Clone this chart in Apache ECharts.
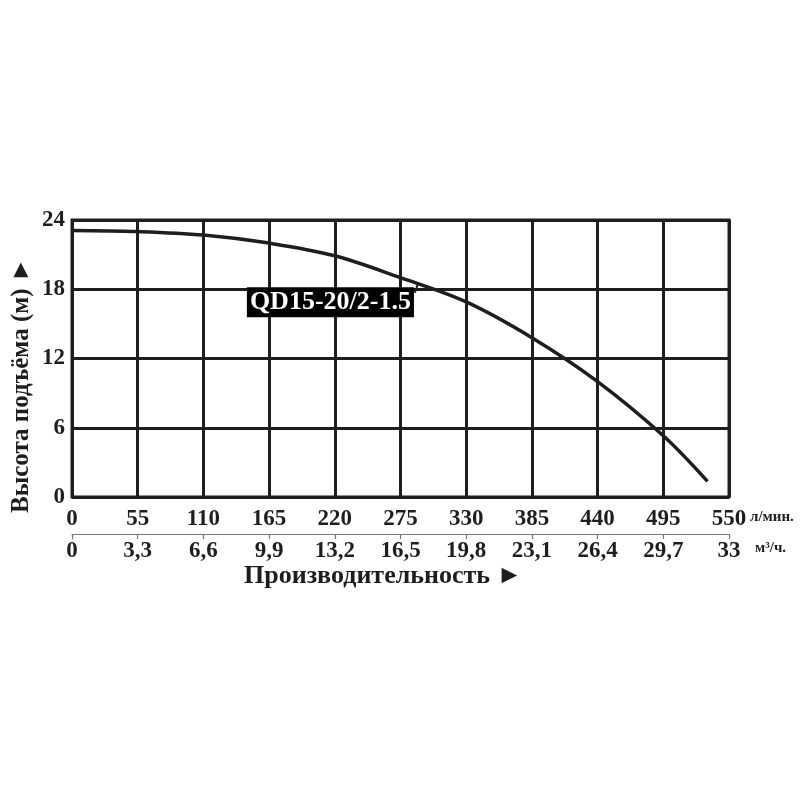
<!DOCTYPE html>
<html>
<head>
<meta charset="utf-8">
<script src="https://cdn.jsdelivr.net/npm/echarts@6/dist/echarts.min.js"></script>
<style>
  html, body { margin: 0; padding: 0; background: #fff; }
  #chart { width: 800px; height: 800px; }
</style>
</head>
<body>
<div id="chart"></div>
<script>
// данные кривой (л/мин -> м)
var flowLpm = [0, 55, 110, 165, 220, 275, 330, 385, 440, 495, 532];
var headM = [23.1, 23.0, 22.7, 22.0, 20.9, 19.0, 16.9, 13.8, 10.0, 5.3, 1.35];
var lpmTicks = ['0', '55', '110', '165', '220', '275', '330', '385', '440', '495', '550'];
var m3Ticks = ['0', '3,3', '6,6', '9,9', '13,2', '16,5', '19,8', '23,1', '26,4', '29,7', '33'];
var headTicks = [0, 6, 12, 18, 24];
var modelName = 'QD15-20/2-1.5';

var FONT = 'Liberation Serif';
var INK = '#1e1e1e';

var myChart = echarts.init(document.getElementById('chart'));
var option = {
   backgroundColor: '#fff',
   animation: false,
   grid: {
      left: 72, right: 71, top: 220, bottom: 303,
      show: true, borderColor: INK, borderWidth: 3
   },
   xAxis: [
      {
         type: 'value', min: 0, max: 550, interval: 55,
         axisLine: { show: false },
         axisTick: { show: false },
         splitLine: { show: true, lineStyle: { color: INK, width: 3 } },
         axisLabel: {
            margin: 11, color: INK, fontFamily: FONT, fontWeight: 'bold', fontSize: 23,
            formatter: function (v) { return lpmTicks[Math.round(v / 55)]; }
         }
      },
      {
         type: 'value', min: 0, max: 550, interval: 55,
         position: 'bottom', offset: 37,
         axisLine: { show: true, lineStyle: { color: '#777', width: 1.2 } },
         axisTick: { show: true, length: 5, lineStyle: { color: '#777', width: 1.2 } },
         splitLine: { show: false },
         axisLabel: {
            margin: 6, color: INK, fontFamily: FONT, fontWeight: 'bold', fontSize: 23,
            formatter: function (v) { return m3Ticks[Math.round(v / 55)]; }
         }
      }
   ],
   yAxis: {
      type: 'value', min: 0, max: 24, interval: 6,
      axisLine: { show: false },
      axisTick: { show: false },
      splitLine: { show: true, lineStyle: { color: INK, width: 3 } },
      axisLabel: {
         margin: 7, color: INK, fontFamily: FONT, fontWeight: 'bold', fontSize: 23,
         formatter: function (v) { return headTicks.indexOf(v) >= 0 ? String(v) : ''; }
      }
   },
   graphic: [
      {
         type: 'text', left: 750, top: 510,
         style: { text: 'л/мин.', fill: INK, font: 'bold 15px "Liberation Serif"' }
      },
      {
         type: 'text', left: 755, top: 541,
         style: { text: 'м³/ч.', fill: INK, font: 'bold 15px "Liberation Serif"' }
      },
      {
         type: 'text', left: 244, top: 563,
         style: { text: 'Производительность ►', fill: INK, font: 'bold 26px "Liberation Serif"' }
      },
      {
         type: 'text', x: 9, y: 513, rotation: Math.PI / 2,
         style: { text: 'Высота подъёма (м) ►', fill: INK, font: 'bold 25px "Liberation Serif"' }
      }
   ],
   series: [{
      type: 'line',
      smooth: 0.35,
      symbol: 'none',
      lineStyle: { color: INK, width: 3.5 },
      data: flowLpm.map(function (f, i) { return [f, headM[i]]; }),
      markLine: {
         silent: true, symbol: 'none', label: { show: false },
         lineStyle: { color: INK, width: 2, type: 'solid' },
         data: [[{ coord: [287, 17.7] }, { coord: [290, 18.6] }]]
      },
      markPoint: {
         silent: true, symbol: 'circle', symbolSize: 1,
         itemStyle: { color: 'rgba(0,0,0,0)' },
         data: [{
            coord: [290, 18.6],
            label: {
               show: true, position: 'inside', offset: [-88, 20],
               formatter: modelName,
               backgroundColor: '#000', color: '#fff', padding: [3, 3, 1, 3],
               fontFamily: FONT, fontWeight: 'bold', fontSize: 26
            }
         }]
      }
   }]
};
myChart.setOption(option);
</script>
</body>
</html>
